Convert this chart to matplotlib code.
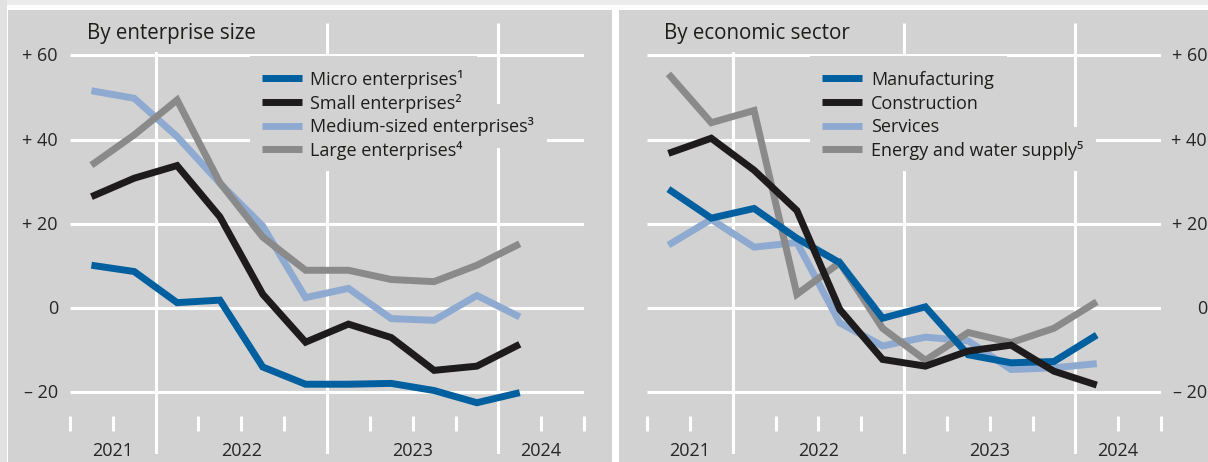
import numpy as np
import matplotlib
matplotlib.use("Agg")
import matplotlib.pyplot as plt
from matplotlib.lines import Line2D
from matplotlib.patches import Rectangle
from matplotlib.transforms import IdentityTransform

plt.rcParams['font.family'] = ['Open Sans', 'DejaVu Sans']

W, H, DPI = 1208, 462, 100

# axis runs over whole quarters, 2021 Q3 to 2024 Q2; data ends 2024 Q1
axis_quarters = ['2021Q3', '2021Q4',
                 '2022Q1', '2022Q2', '2022Q3', '2022Q4',
                 '2023Q1', '2023Q2', '2023Q3', '2023Q4',
                 '2024Q1', '2024Q2']
data_quarters = axis_quarters[:11]

micro = [10.1, 8.6, 1.2, 1.8, -14.1, -18.2, -18.2, -18.0, -19.7, -22.6, -20.2]
small = [26.4, 30.8, 33.8, 21.6, 3.2, -8.2, -3.9, -7.1, -14.9, -13.9, -8.7]
medium = [51.6, 49.8, 40.7, 29.6, 19.4, 2.4, 4.6, -2.6, -3.0, 2.9, -2.2]
large = [33.9, 41.1, 49.4, 29.7, 16.8, 8.9, 8.9, 6.7, 6.2, 10.1, 15.2]

manufacturing = [28.2, 21.3, 23.6, 16.5, 10.7, -2.5, 0.2, -11.2, -13.1, -12.8, -6.5]
construction = [36.7, 40.3, 32.7, 23.1, -0.4, -12.3, -13.9, -10.3, -8.9, -15.1, -18.4]
services = [14.9, 21.0, 14.4, 15.5, -3.6, -9.1, -7.0, -7.9, -14.7, -14.3, -13.3]
energy = [55.6, 44.0, 46.9, 3.2, 10.7, -4.9, -12.5, -5.9, -8.3, -4.9, 1.4]

yticks = [60, 40, 20, 0, -20]
ytick_labels = ['+ 60', '+ 40', '+ 20', '0', '\u2013 20']

BLUE = '#005f9f'
BLACK = '#1d1b1b'
LIGHT = '#8eaad0'
GREY = '#8a8a8a'
PANEL = '#d2d2d2'
TEXT = '#1d1d1b'

size_series = [
    ('Micro enterprises\u00b9', micro, BLUE),
    ('Small enterprises\u00b2', small, BLACK),
    ('Medium-sized enterprises\u00b3', medium, LIGHT),
    ('Large enterprises\u2074', large, GREY),
]
sector_series = [
    ('Manufacturing', manufacturing, BLUE),
    ('Construction', construction, BLACK),
    ('Services', services, LIGHT),
    ('Energy and water supply\u2075', energy, GREY),
]
# drawing order, bottom to top
draw_order = [2, 3, 0, 1]

# vertical pixel layout shared by both panels
PLOT_TOP, PLOT_BOTTOM = 23, 454
Y0_PX, PX_PER_UNIT = 307.7, 4.205
PLOT_W = 514


def py_to_val(py):
    return (Y0_PX - py) / PX_PER_UNIT


def fx(x):
    return x / W


def fy(y):
    return 1 - y / H


fig = plt.figure(figsize=(W / DPI, H / DPI), dpi=DPI)
fig.patch.set_facecolor('white')


def band(x0, y0, x1, y1, color):
    fig.add_artist(Rectangle((fx(x0), fy(y1)), (x1 - x0) / W, (y1 - y0) / H,
                             transform=fig.transFigure, facecolor=color,
                             edgecolor='none', zorder=-10))


band(0, 0, W, 5, '#ebebeb')
band(0, 0, 7, H, '#e2e2e2')
band(8, 10, 612, H, PANEL)
band(619, 10, W, H, PANEL)


def panel(left_px, title, series, label_side, legend_px):
    ax = fig.add_axes([fx(left_px), fy(PLOT_BOTTOM), PLOT_W / W,
                       (PLOT_BOTTOM - PLOT_TOP) / H])
    ax.set_xlim(-0.5, len(axis_quarters) - 0.5)
    ax.set_ylim(py_to_val(PLOT_BOTTOM), py_to_val(PLOT_TOP))
    ax.axis('off')
    x = np.arange(len(data_quarters))
    lo, hi = ax.get_xlim()

    # grid
    ax.hlines(yticks, lo, hi, color='white', lw=2.2, zorder=1)
    years = [q[:4] for q in axis_quarters]
    bounds = [i - 0.5 for i in range(1, len(years)) if years[i] != years[i - 1]]
    ax.vlines(bounds, py_to_val(PLOT_BOTTOM), py_to_val(PLOT_TOP),
              color='white', lw=2.2, zorder=1)
    quarter_edges = [i - 0.5 for i in range(len(axis_quarters) + 1)]
    ticks = [e for e in quarter_edges if e not in bounds]
    ax.vlines(ticks, py_to_val(431), py_to_val(416), color='white', lw=2.2,
              zorder=1, clip_on=False)

    # year labels centred on their span
    for yr in dict.fromkeys(years):
        idx = [i for i, y in enumerate(years) if y == yr]
        ax.annotate(yr, (np.mean(idx), py_to_val(456)), ha='center',
                    va='baseline', fontsize=13, color='#262626',
                    annotation_clip=False)

    # y labels
    for v, lab in zip(yticks, ytick_labels):
        if label_side == 'left':
            ax.annotate(lab, (lo, v), xytext=(-12, -6),
                        textcoords='offset pixels', ha='right', va='baseline',
                        fontsize=13, color='#262626', annotation_clip=False)
        else:
            ax.annotate(lab, (hi, v), xytext=(46, -6),
                        textcoords='offset pixels', ha='right', va='baseline',
                        fontsize=13, color='#262626', annotation_clip=False)

    # series
    for k in draw_order:
        name, vals, col = series[k]
        ax.plot(x, vals, color=col, lw=5, solid_joinstyle='miter',
                solid_capstyle='butt', zorder=3, clip_on=False)

    # title and legend, each row sits on its own background patch
    title_x = left_px + 17
    t = ax.text(fx(title_x), fy(39.3), title, transform=fig.transFigure,
                fontsize=14.8, color=TEXT, ha='left', va='baseline', zorder=5)
    hx0, hx1, tx = legend_px
    rows = []
    for i, (name, vals, col) in enumerate(series):
        cy = 78.3 + i * 23.7
        ax.add_line(Line2D([fx(hx0), fx(hx1)], [fy(cy), fy(cy)],
                           transform=fig.transFigure, color=col, lw=5,
                           solid_capstyle='butt', zorder=5, clip_on=False))
        txt = ax.text(fx(tx), fy(cy + 6.8), name, transform=fig.transFigure,
                      fontsize=13, color=TEXT, ha='left', va='baseline',
                      zorder=5)
        rows.append((txt, cy))
    return ax, t, rows, hx0


panels = [
    panel(70, 'By enterprise size', size_series, 'left', (262, 302, 310)),
    panel(647, 'By economic sector', sector_series, 'right', (822, 862, 871)),
]

fig.canvas.draw()
renderer = fig.canvas.get_renderer()
for ax, t, rows, hx0 in panels:
    bb = t.get_window_extent(renderer)
    ax.add_patch(Rectangle((bb.x0 - 10, H - 52), bb.width + 20, 30,
                           transform=IdentityTransform(), facecolor=PANEL,
                           edgecolor='none', zorder=2, clip_on=False))
    for txt, cy in rows:
        bb = txt.get_window_extent(renderer)
        x0 = hx0 - 12
        ax.add_patch(Rectangle((x0, H - cy - 22), bb.x1 + 13 - x0, 44,
                               transform=IdentityTransform(), facecolor=PANEL,
                               edgecolor='none', zorder=2, clip_on=False))

fig.savefig('out.png', dpi=DPI)
